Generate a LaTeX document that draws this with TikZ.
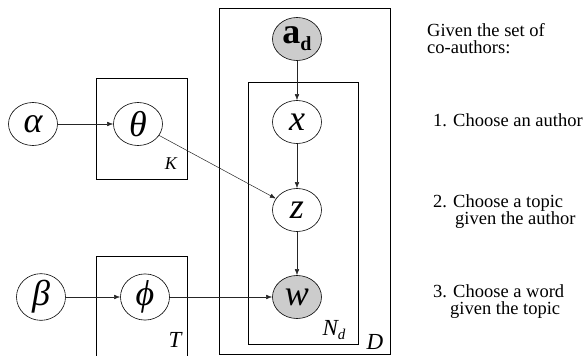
\documentclass[tikz,border=0pt]{standalone}
\usepackage{fontspec}
\setmainfont{Liberation Serif}
\usetikzlibrary{shapes.geometric,arrows.meta}
\begin{document}
\begin{tikzpicture}[x=1pt,y=-1pt,
 var/.style={ellipse,draw,line width=0.6pt,minimum width=49pt,minimum height=43pt,inner sep=0pt,font=\fontsize{36}{38}\selectfont\itshape},
 obs/.style={var,fill=gray!40},
 plate/.style={draw,line width=0.7pt},
 edge/.style={-{Latex[length=6pt,width=4.5pt]},line width=0.5pt,draw=black!85},
 lbl/.style={font=\fontsize{23}{24}\selectfont\itshape,inner sep=0pt},
 txt/.style={font=\fontsize{18.5}{17}\selectfont,inner sep=0pt,anchor=west,align=left}]
\useasboundingbox (0,0) rectangle (584,356);
% plates
\draw[plate] (96,78) rectangle (187,179);
\draw[plate] (96,357) -- (96,256) -- (187,256) -- (187,357);
\draw[plate] (219,8) rectangle (390,354);
\draw[plate] (248,82) rectangle (358,344);
% plate labels
\node[lbl,font=\fontsize{18}{18}\selectfont\itshape] (K) at (171,164) {K};
\node[lbl] (T) at (175,340) {T};
\node[lbl] (Nd) at (334,330) {N\raisebox{-4pt}{\fontsize{15}{15}\selectfont d}};
\node[lbl] (D) at (375,342) {D};
% variables
\node[var] (alpha) at (33,124) {α};
\node[var] (theta) at (138,124) {θ};
\node[var] (beta) at (41,297) {β};
\node[var] (phi) at (145,297) {ϕ};
\node[obs,font=\fontsize{36}{38}\selectfont\bfseries] (ad) at (297,39) {a\raisebox{-7pt}{\fontsize{20}{20}\selectfont\bfseries d}};
\node[var] (x) at (297,122) {x};
\node[var] (z) at (297,210) {z};
\node[obs] (w) at (297,297) {w};
% edges
\draw[edge] (alpha) -- (theta);
\draw[edge] (theta) -- (z);
\draw[edge] (beta) -- (phi);
\draw[edge] (phi) -- (w);
\draw[edge] (ad) -- (x);
\draw[edge] (x) -- (z);
\draw[edge] (z) -- (w);
% text
\node[txt] (t0) at (427,39) {Given the set of\\co-authors:};
\node[txt] (t1) at (433,120) {1. Choose an author};
\node[txt] (t2) at (433,212) {2. Choose a topic\\\hspace*{22pt}given the author};
\node[txt] (t3) at (433,302) {3. Choose a word\\\hspace*{17pt}given the topic};
\end{tikzpicture}
\end{document}
